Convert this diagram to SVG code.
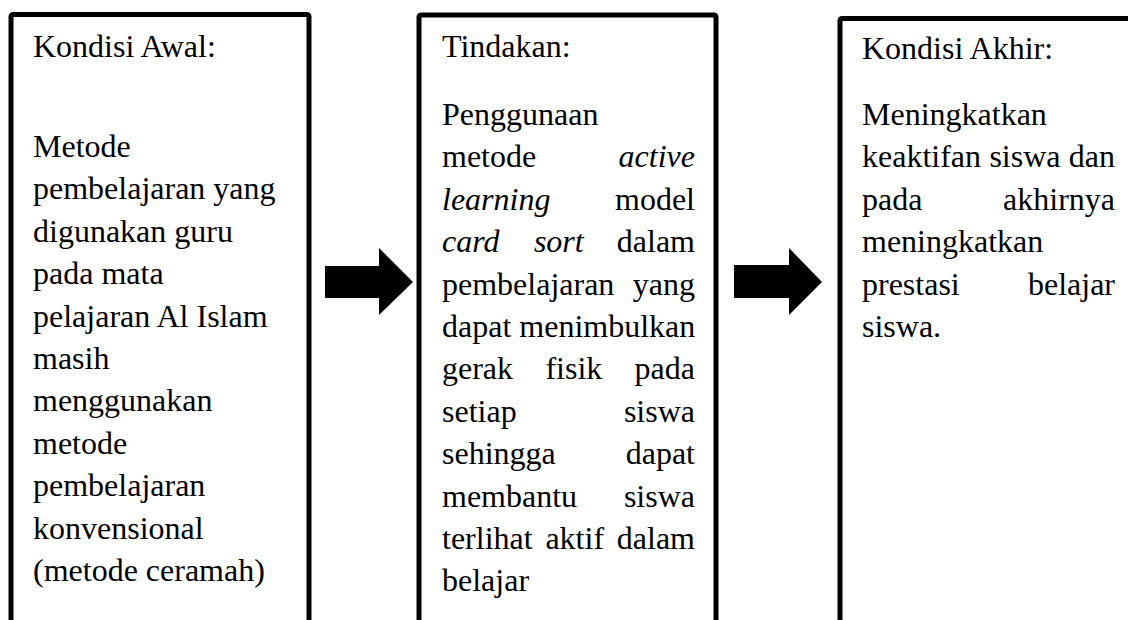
<svg xmlns="http://www.w3.org/2000/svg" width="1128" height="620" viewBox="0 0 1128 620">
  <style>
    .box { fill: #ffffff; stroke: #000000; stroke-width: 5; stroke-linejoin: round; }
    .t { font-family: "Liberation Serif", "Times New Roman", serif; font-size: 32px; fill: #000000; }
    .i { font-style: italic; }
    .e { text-anchor: end; }
    .arrow { fill: #000000; }
  </style>
  <rect x="0" y="0" width="1128" height="620" fill="#ffffff"/>

  <g id="node-kondisi-awal">
    <rect class="box" x="11" y="14.5" width="298" height="640" rx="2"/>
    <text class="t" x="33" y="57">Kondisi Awal:</text>
    <text class="t" x="33" y="157">Metode</text>
    <text class="t" x="33" y="199.4">pembelajaran yang</text>
    <text class="t" x="33" y="241.8">digunakan guru</text>
    <text class="t" x="33" y="284.2">pada mata</text>
    <text class="t" x="33" y="326.6">pelajaran Al Islam</text>
    <text class="t" x="33" y="369">masih</text>
    <text class="t" x="33" y="411.4">menggunakan</text>
    <text class="t" x="33" y="453.8">metode</text>
    <text class="t" x="33" y="496.2">pembelajaran</text>
    <text class="t" x="33" y="538.6">konvensional</text>
    <text class="t" x="33" y="581">(metode ceramah)</text>
  </g>

  <g id="node-tindakan">
    <rect class="box" x="419" y="15" width="297" height="640" rx="2"/>
    <text class="t" x="442" y="57">Tindakan:</text>
    <text class="t" x="442" y="125">Penggunaan</text>
    <text class="t" x="442" y="167.4">metode</text>
    <text class="t i e" x="695" y="167.4">active</text>
    <text class="t i" x="442" y="209.8">learning</text>
    <text class="t e" x="695" y="209.8">model</text>
    <text class="t i" x="442" y="252.2">card</text>
    <text class="t i" x="533.9" y="252.2">sort</text>
    <text class="t e" x="695" y="252.2">dalam</text>
    <text class="t" x="442" y="294.6">pembelajaran</text>
    <text class="t e" x="695" y="294.6">yang</text>
    <text class="t" x="442" y="337">dapat menimbulkan</text>
    <text class="t" x="442" y="379.4">gerak</text>
    <text class="t" x="545.4" y="379.4">fisik</text>
    <text class="t e" x="695" y="379.4">pada</text>
    <text class="t" x="442" y="421.8">setiap</text>
    <text class="t e" x="695" y="421.8">siswa</text>
    <text class="t" x="442" y="464.2">sehingga</text>
    <text class="t e" x="695" y="464.2">dapat</text>
    <text class="t" x="442" y="506.6">membantu</text>
    <text class="t e" x="695" y="506.6">siswa</text>
    <text class="t" x="442" y="549">terlihat</text>
    <text class="t" x="545.4" y="549">aktif</text>
    <text class="t e" x="695" y="549">dalam</text>
    <text class="t" x="442" y="591.4">belajar</text>
  </g>

  <g id="node-kondisi-akhir">
    <rect class="box" x="840" y="18.5" width="300" height="640" rx="2"/>
    <text class="t" x="862" y="59">Kondisi Akhir:</text>
    <text class="t" x="862" y="125">Meningkatkan</text>
    <text class="t" x="862" y="167.4">keaktifan</text>
    <text class="t" x="989.4" y="167.4">siswa</text>
    <text class="t e" x="1115" y="167.4">dan</text>
    <text class="t" x="862" y="209.8">pada</text>
    <text class="t e" x="1115" y="209.8">akhirnya</text>
    <text class="t" x="862" y="252.2">meningkatkan</text>
    <text class="t" x="862" y="294.6">prestasi</text>
    <text class="t e" x="1115" y="294.6">belajar</text>
    <text class="t" x="862" y="337">siswa.</text>
  </g>

  <g id="connectors">
    <polygon class="arrow" points="325,266 379,266 379,248 413,282 379,315 379,298 325,298"/>
    <polygon class="arrow" points="734,265 789,265 789,248 822,282 789,315 789,298 734,298"/>
  </g>
</svg>
